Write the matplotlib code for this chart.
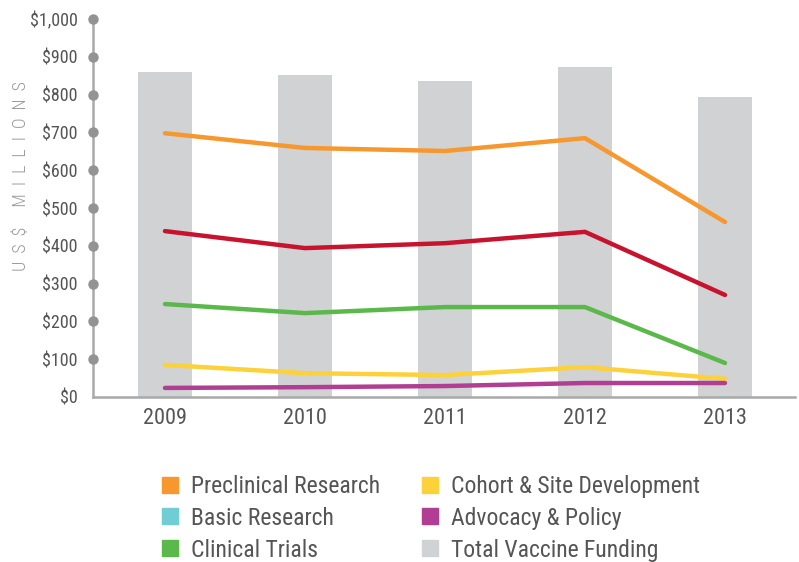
import matplotlib.pyplot as plt
from matplotlib.lines import Line2D

years = ["2009", "2010", "2011", "2012", "2013"]
total_funding = [860, 852, 836, 873, 794]
preclinical = [698, 659, 651, 685, 463]
basic_research = [439, 394, 407, 437, 270]
clinical_trials = [246, 222, 238, 238, 90]
cohort_site = [85, 63, 58, 79, 48]
advocacy_policy = [24, 26, 29, 37, 37]

y_ticks = [0, 100, 200, 300, 400, 500, 600, 700, 800, 900, 1000]
y_tick_labels = ["$0", "$100", "$200", "$300", "$400", "$500",
                 "$600", "$700", "$800", "$900", "$1,000"]

plt.rcParams["font.family"] = ["Roboto Condensed", "DejaVu Sans"]
text_color = "#555555"
axis_color = "#a9a9a9"

fig = plt.figure(figsize=(7.99, 5.62), dpi=100)
ax = fig.add_axes([0.1164, 0.2936, 0.8786, 0.6724])

x = list(range(len(years)))
ax.bar(x, total_funding, width=0.386, color="#d1d2d4", zorder=1)

series = [
    (preclinical, "#f7982f"),
    (basic_research, "#c8132f"),
    (clinical_trials, "#5bb94b"),
    (cohort_site, "#fdd13a"),
    (advocacy_policy, "#b13e93"),
]
for values, color in series:
    ax.plot(x, values, color=color, linewidth=3.2, solid_capstyle="round", zorder=3)

ax.set_xlim(-0.514, 4.5)
ax.set_ylim(0, 1000)
ax.set_xticks(x)
ax.set_xticklabels(years, fontsize=16, color=text_color)
ax.set_yticks(y_ticks)
ax.set_yticklabels(y_tick_labels, fontsize=13, color=text_color)
ax.tick_params(axis="x", length=0, pad=8)
ax.tick_params(axis="y", length=0, pad=11)

for side in ["top", "right"]:
    ax.spines[side].set_visible(False)
ax.spines["left"].set_color(axis_color)
ax.spines["bottom"].set_color(axis_color)
ax.spines["left"].set_linewidth(1.8)
ax.spines["bottom"].set_linewidth(1.8)

# dots on the y axis at each tick
ax.plot([ax.get_xlim()[0]] * (len(y_ticks) - 1), y_ticks[1:], "o", color="#939393",
        markersize=6.5, clip_on=False, zorder=5)

fig.text(0.026, 0.687, "U  S  $     M  I  L  L  I  O  N  S", rotation=90, fontsize=13,
         color="#9a9a9a", ha="center", va="center", fontweight="light")

legend_labels = ["Preclinical Research", "Basic Research", "Clinical Trials",
                 "Cohort & Site Development", "Advocacy & Policy", "Total Vaccine Funding"]
legend_colors = ["#f7982f", "#6fcdd3", "#5bb94b", "#fdd13a", "#b13e93", "#d1d2d4"]
handles = [Line2D([], [], marker="s", linestyle="none", markersize=11, color=c)
           for c in legend_colors]
fig.legend(handles, legend_labels, ncol=2, loc="upper left",
           bbox_to_anchor=(0.186, 0.172), frameon=False, fontsize=17,
           labelcolor=text_color, handletextpad=0.4, handlelength=1.0,
           columnspacing=1.6, labelspacing=0.38, borderaxespad=0)

fig.savefig("out.png", dpi=100)
